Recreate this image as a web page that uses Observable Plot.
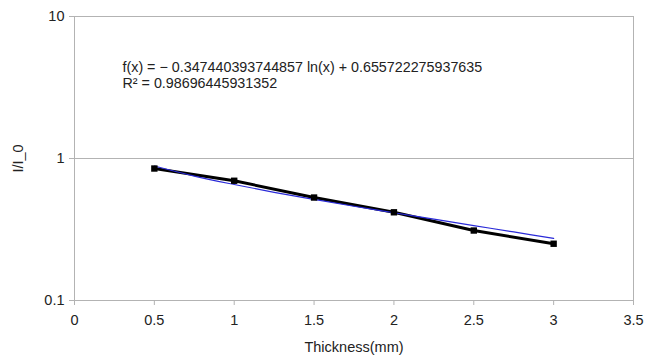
<!DOCTYPE html>
<html>
<head>
<meta charset="utf-8">
<script src="https://cdn.jsdelivr.net/npm/d3@7"></script>
<script src="https://cdn.jsdelivr.net/npm/@observablehq/plot@0.6"></script>
<style>
  html, body { margin: 0; padding: 0; background: #fff; }
  #chart svg { display: block; }
</style>
</head>
<body>
<div id="chart"></div>
<script>
const thickness = [0.5, 1, 1.5, 2, 2.5, 3];
const ratio = [0.85, 0.697, 0.531, 0.418, 0.311, 0.251];

// Logarithmic trend line
const trendX = [0.5, 0.75, 1, 1.25, 1.5, 1.75, 2, 2.25, 2.5, 2.75, 3];
const trendY = [0.885, 0.752, 0.656, 0.578, 0.515, 0.461, 0.415, 0.374, 0.337, 0.304, 0.274];

const xTicks = [0, 0.5, 1, 1.5, 2, 2.5, 3, 3.5];
const yTicks = [0.1, 1, 10];
const equationLines = [
  "f(x) = \u2212 0.347440393744857 ln(x) + 0.655722275937635",
  "R\u00B2 = 0.98696445931352"
];
const xLabel = "Thickness(mm)";
const yLabel = "I/I_0";

const points = thickness.map((x, i) => ({x, y: ratio[i]}));
const trend = trendX.map((x, i) => ({x, y: trendY[i]}));

const grey = "#b3b3b3";
const font = "Liberation Sans, Arial, sans-serif";

const chart = Plot.plot({
  width: 646,
  height: 360,
  marginLeft: 74,
  marginRight: 13,
  marginTop: 16,
  marginBottom: 60,
  style: {fontFamily: font, fontSize: "14px", color: "#222", background: "#fff"},
  x: {domain: [0, 3.5]},
  y: {type: "log", domain: [0.1, 10]},
  marks: [
    Plot.ruleY([1], {stroke: grey, strokeWidth: 1}),
    Plot.frame({stroke: grey, strokeWidth: 1}),
    Plot.axisX({
      ticks: xTicks, tickFormat: d => String(d), tickSize: 5, tickPadding: 9,
      stroke: grey, fill: "#222", fontSize: 14.5,
      label: xLabel, labelAnchor: "center", labelArrow: "none", labelOffset: 51
    }),
    Plot.axisY({
      ticks: yTicks, tickFormat: d => String(d), tickSize: 5, tickPadding: 5,
      stroke: grey, fill: "#222", fontSize: 14.5,
      label: yLabel, labelAnchor: "center", labelArrow: "none", labelOffset: 62
    }),
    Plot.line(points, {x: "x", y: "y", stroke: "#000", strokeWidth: 3}),
    Plot.line(trend, {x: "x", y: "y", stroke: "#2a2ad8", strokeWidth: 1.2, curve: "catmull-rom"}),
    Plot.dot(points, {x: "x", y: "y", symbol: "square", r: 3.6, fill: "#000"}),
    Plot.text([equationLines.join("\n")], {
      frameAnchor: "top-left", dx: 48, dy: 44, textAnchor: "start", lineAnchor: "top",
      lineHeight: 1.13, fontSize: 14.3, fill: "#222"
    })
  ]
});
document.getElementById("chart").appendChild(chart);
</script>
</body>
</html>
